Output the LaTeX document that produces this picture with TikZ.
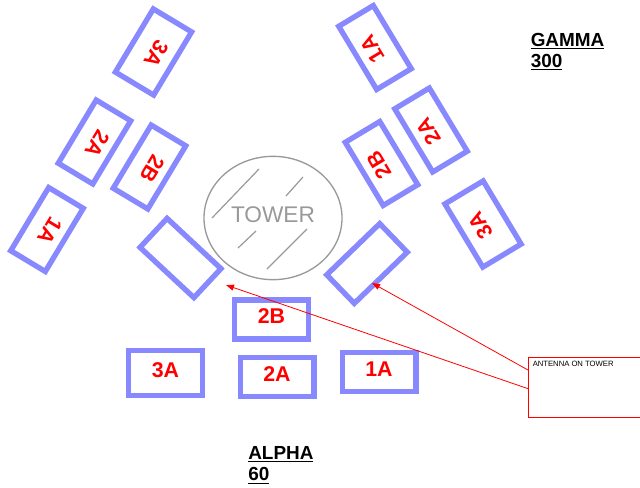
\documentclass[tikz,border=0pt]{standalone}
\usepackage{fontspec}
\setmainfont{Liberation Sans}
\usepackage{xcolor}
\usetikzlibrary{arrows.meta,shapes.geometric}
\definecolor{panel}{HTML}{8888FF}
\definecolor{mast}{HTML}{999999}
\definecolor{callout}{HTML}{FF0000}
\tikzset{
  antbox/.style={draw=panel,line width=4pt,minimum width=55.25pt,inner sep=0pt,text depth=5pt,
    text=red,font=\bfseries\fontsize{16}{18}\selectfont},
  sector/.style={anchor=north west,inner sep=0pt,align=left,font=\bfseries\fontsize{14.2}{15.75}\selectfont},
  pointer/.style={-{Triangle[length=6pt,width=4.5pt]},callout,line width=0.6pt},
}
\begin{document}
\begin{tikzpicture}[x=0.75pt,y=-0.75pt]
\useasboundingbox (0,0) rectangle (640,487);
\clip (0,0) rectangle (640,487);
% tower
\node[draw=mast,line width=1pt,shape=ellipse,minimum width=103.5pt,minimum height=92.5pt,inner sep=0pt,
  text=mast,text depth=5pt,font=\fontsize{17}{19}\selectfont] (tower) at (273,218) {TOWER};
\foreach \xa/\ya/\xb/\yb in {212/218/259/169,286/196/303/177,238/248/256/231,267/269/307/229}
  \draw[mast,line width=0.9pt] (\xa,\ya)--(\xb,\yb);
% panels
\foreach \n/\x/\y/\r/\h/\l in {
  alphaA/165.5/373/0/33.5pt/3A,alphaB/277/377/0/29.25pt/2A,alphaC/379/372/0/29.25pt/1A,alphaD/271.5/319.5/0/29.25pt/2B,
  betaA/47/229.5/-121/30.25pt/1A,betaB/94.5/142/-121/30.25pt/2A,betaC/149.5/167/-121/30.25pt/2B,betaD/153.5/52/-121/33.5pt/3A,
  gammaA/375/47.5/121/30.25pt/1A,gammaB/431/130/121/30.25pt/2A,gammaC/381.5/163.5/121/30.25pt/2B,gammaD/483/224/121/33.5pt/3A}
  \node[antbox,rotate=\r,minimum height=\h] (\n) at (\x,\y) {\l};
\node[antbox,rotate=-43,minimum height=29.75pt] (towerL) at (180.5,258) {};
\node[antbox,rotate=44,minimum height=29.75pt] (towerR) at (367,263.5) {};
% sector names
\node[sector] (alphaname) at (248,446.5) {\underline{ALPHA}\\\underline{60}};
\node[sector] (gammaname) at (530.5,33) {\underline{GAMMA}\\\underline{300}};
% callout
\node[draw=callout,line width=0.75pt,anchor=north west,minimum width=90pt,minimum height=45.5pt,
  inner sep=0pt] (note) at (528,356.5) {};
\node[anchor=west,inner sep=0pt,font=\fontsize{5.75}{7}\selectfont] (notetext) at (532.5,364) {ANTENNA ON TOWER};
\coordinate (tipL) at (226,285);
\coordinate (tipR) at (372,283);
\draw[pointer] ([yshift=-1pt]note.west)--(tipL);
\draw[pointer] ([yshift=13pt]note.west)--(tipR);
\end{tikzpicture}
\end{document}
